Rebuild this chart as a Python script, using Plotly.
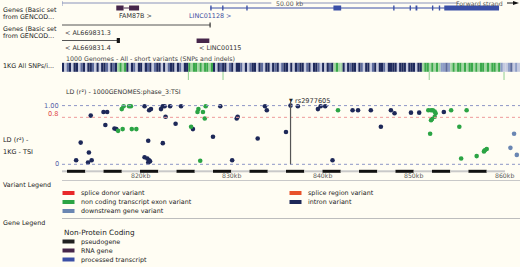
import plotly.graph_objects as go

# ---------------- data ----------------
# LD r^2 vs position (kb) by variant consequence
intron_kb = [813.0, 813.5, 814.3, 814.4, 814.7, 814.6, 816.0, 816.4, 816.2, 817.2, 817.4,
             820.5, 821.0, 821.2, 820.9, 820.5, 820.8, 821.0, 820.9, 821.1, 822.3, 822.5,
             822.7, 822.8, 822.5, 823.3, 823.9, 824.5, 825.8, 828.8, 828.0, 830.1, 830.7,
             830.6, 832.9, 833.7, 833.9, 836.0, 836.5, 837.3, 839.5, 839.8, 840.3, 841.1,
             843.3, 843.9, 845.3, 846.4, 847.5, 847.9, 849.7, 850.6, 853.3]
intron_r2 = [0.07, 0.37, 0.03, 0.20, 0.07, 0.83, 0.89, 0.89, 0.67, 0.61, 0.60,
             0.99, 0.92, 0.94, 0.40, 0.12, 0.10, 0.07, 0.03, 0.05, 0.94, 0.99,
             0.99, 0.81, 0.36, 0.99, 0.69, 0.99, 0.60, 0.99, 0.47, 0.07, 0.81,
             0.78, 0.44, 0.99, 0.92, 0.55, 1.00, 0.99, 0.94, 0.99, 0.99, 0.07,
             0.92, 0.92, 0.92, 0.64, 0.92, 0.87, 0.88, 0.88, 0.89]
ncexon_kb = [817.6, 818.1, 819.1, 819.6, 818.0, 818.2, 818.8, 819.0, 826.4, 826.3, 826.9,
             827.2, 827.1, 825.6, 826.6, 841.7, 851.6, 851.9, 852.1, 852.3, 852.4, 852.3,
             852.0, 851.9, 851.8, 854.1, 855.8, 855.0, 855.2, 856.9, 857.7, 857.8, 858.0]
ncexon_r2 = [0.57, 0.60, 0.60, 0.60, 0.94, 0.99, 0.99, 0.99, 0.94, 0.89, 0.89,
             0.99, 0.78, 0.64, 0.06, 0.92, 0.92, 0.92, 0.92, 0.90, 0.87, 0.81,
             0.77, 0.75, 0.52, 0.92, 0.92, 0.64, 0.10, 0.14, 0.22, 0.24, 0.26]
downstream_kb = [861.0, 860.6, 861.3]
downstream_r2 = [0.52, 0.28, 0.16]

lead_snp = "rs2977605"
lead_kb = 836.5
ld_lines = [1.0, 0.8, 0.0]
ld_line_labels = ["1.00", "0.8", "0"]

scale_ticks_kb = [820, 830, 840, 850, 860]
scale_tick_labels = ["820kb", "830kb", "840kb", "850kb", "860kb"]
scale_seg_kb = [812 + 2 * i for i in range(25)]

# genes (kb)
fam87b_exons = [(817.4, 818.2), (818.8, 819.9)]
linc01128_span = (827.7, 859.35)
linc01128_exons = [(827.7, 827.85), (829.0, 829.15), (831.65, 831.8), (841.2, 842.05),
                   (847.75, 847.9), (849.55, 849.7), (850.2, 850.4), (852.0, 852.15),
                   (852.75, 852.9), (853.35, 859.35)]
al3_span = (811.45, 827.7)
al4_span = (811.45, 817.6)
al4_exon = (817.45, 817.8)
linc00115_exon = (826.2, 827.6)

# 1000 Genomes SNP density track: zones (start, end, stripe pattern)
snp_zones = [
    (811.45, 817.5, "NlmNlNNlmNlNNmlNlNNmlNmN"),
    (817.5, 818.5, "gGgG"),
    (818.5, 825.3, "NlNmlNNlNmNlmNNlNlmNNlNmlNN"),
    (825.3, 828.0, "GgGGgGgGGgG"),
    (828.0, 841.2, "NlNmNNlmNlNNmlNlmNNlNmlNNlNmNlmNNlNlNmNNlmNlNNmlNlNmN"),
    (841.2, 842.2, "gGgg"),
    (842.2, 847.4, "NlNmNNlNmlNNlmNlNNmlN"),
    (847.4, 850.9, "NNNlNNNlNNNlNN"),
    (850.9, 853.2, "gGGgGgGgb"),
    (853.2, 854.0, "bmb"),
    (854.0, 859.5, "gGgGGgGgGGgGgGGgGgGGgG"),
    (859.5, 861.65, "bllbmlbl"),
]
snp_green_ticks_kb = [825.3, 829.1, 851.7, 859.9]

variant_legend = [("splice donor variant", "#e8282a"), ("non coding transcript exon variant", "#2ba444"),
                  ("downstream gene variant", "#6a86b2"), ("splice region variant", "#e8522a"),
                  ("intron variant", "#1d2858")]
gene_legend = [("pseudogene", "#202020"), ("RNA gene", "#46264a"), ("processed transcript", "#3a4fa6")]

# ---------------- styling / layout ----------------
W, H = 520, 267
X0, X1 = 811.45, 861.65
BG = "#fffdf3"
FONT = "DejaVu Sans"
TXT = "#222222"
NAVY = "#1d2858"
GREEN = "#2ba444"
DOWN = "#6a86b2"
RNA = "#46264a"
BLUE = "#3a4fa6"
FS = 6.4
LD_TOP, LD_BOT = 95, 170
R_LO, R_HI = (164.3 - LD_BOT) / 58.7, (164.3 - LD_TOP) / 58.7


def px(x):
    return x / W


def py(y):
    return 1 - y / H


fig = go.Figure()

mk = dict(size=4.6, line=dict(width=0))
fig.add_trace(go.Scatter(x=intron_kb, y=intron_r2, mode="markers", marker=dict(color=NAVY, **mk),
                         xaxis="x", yaxis="y", hoverinfo="skip"))
fig.add_trace(go.Scatter(x=ncexon_kb, y=ncexon_r2, mode="markers", marker=dict(color=GREEN, **mk),
                         xaxis="x", yaxis="y", hoverinfo="skip"))
fig.add_trace(go.Scatter(x=downstream_kb, y=downstream_r2, mode="markers", marker=dict(color=DOWN, **mk),
                         xaxis="x", yaxis="y", hoverinfo="skip"))
fig.add_trace(go.Scatter(x=[X0], y=[0], mode="markers", marker=dict(size=1, opacity=0),
                         xaxis="x", yaxis="y2", hoverinfo="skip"))

shapes = []
ann = []


def rect(x0, x1, y0, y1, color, xref="x", yref="y2"):
    shapes.append(dict(type="rect", xref=xref, yref=yref, x0=x0, x1=x1, y0=y0, y1=y1,
                       fillcolor=color, line=dict(width=0), layer="above"))


def line(x0, x1, y0, y1, color, width=1, xref="x", yref="y2", dash=None):
    d = dict(type="line", xref=xref, yref=yref, x0=x0, x1=x1, y0=y0, y1=y1,
             line=dict(color=color, width=width), layer="above")
    if dash:
        d["line"]["dash"] = dash
    shapes.append(d)


def text(x, y, s, size=FS, color=TXT, anchor="left", xref="paper", yref="paper", **kw):
    ann.append(dict(x=x, y=y, xref=xref, yref=yref, text=s, showarrow=False, xanchor=anchor,
                    yanchor="middle", font=dict(family=FONT, size=size, color=color), **kw))


# --- top scale bar ---
line(X0, 834.4, 3, 3, "#8a93bb")
line(837.2, 854.9, 3, 3, "#8a93bb")
line(X0, X0, 1, 6, "#8a93bb")
text(px(273.5), py(3), "50.00 kb", size=6.2, color="#555")
text(px(505), py(3), "Forward strand", size=6.2, color="#555", anchor="right")
shapes.append(dict(type="path", xref="paper", yref="paper",
                   path=f"M {px(507)} {py(2.4)} L {px(513)} {py(2.4)} L {px(513)} {py(1)} L {px(519)} {py(3)} L {px(513)} {py(5)} L {px(513)} {py(3.6)} L {px(507)} {py(3.6)} Z",
                   fillcolor="#111", line=dict(width=0)))

# --- gene track 1 ---
line(fam87b_exons[0][1], fam87b_exons[1][0], 8, 8, RNA)
for a, b in fam87b_exons:
    rect(a, b, 5.5, 10.5, RNA)
text(px(116.5), py(15.5), "FAM87B &gt;", color="#333")
line(linc01128_span[0], linc01128_span[1], 8, 8, BLUE)
for a, b in linc01128_exons:
    rect(a, b, 5.5, 10.5, BLUE)
text(px(187), py(15.5), "LINC01128 &gt;", color="#3c4ea2")

# --- gene track 2 ---
line(al3_span[0], al3_span[1], 25, 25, "#555")
rect(al3_span[1] - 0.08, al3_span[1] + 0.04, 22.5, 27.5, "#222")
text(px(63), py(33), "&lt; AL669831.3", color="#333")
line(al4_span[0], al4_span[1], 40.5, 40.5, "#555")
rect(al4_exon[0], al4_exon[1], 38, 43, "#151515")
text(px(63), py(48), "&lt; AL669831.4", color="#333")
rect(linc00115_exon[0], linc00115_exon[1], 38.5, 43, RNA)
text(px(197), py(48), "&lt; LINC00115", color="#333")

# --- SNP track ---
text(px(64), py(58.6), "1000 Genomes - All - short variants (SNPs and indels)", size=6.3, color="#444")
cmap = {"N": "#1f2a5c", "m": "#5d6b9c", "l": "#c5cae0", "b": "#8e9dc6", "G": "#3aa84a", "g": "#a3d6a3"}
for a, b, pat in snp_zones:
    w = (b - a) / len(pat)
    for i, c in enumerate(pat):
        rect(a + i * w, a + (i + 1) * w, 62.8, 71.8, cmap[c])
for k in snp_green_ticks_kb:
    line(k, k, 72, 80, "#8fd08f")

# --- LD plot ---
text(px(64), py(92), "LD (r²) - 1000GENOMES:phase_3:TSI", size=6.3, color="#333")
ld_colors = ["#8e96c6", "#ee9a9a", "#8e96c6"]
lab_colors = ["#5560a8", "#e04848", "#5560a8"]
shifts = [0, 3, 0]
for v, lab, lc, tc, sh in zip(ld_lines, ld_line_labels, ld_colors, lab_colors, shifts):
    line(px(62), 1, v, v, lc, width=1, xref="paper", yref="y", dash="dot")
    text(px(61), v, lab, size=6.6, color=tc, anchor="right", yref="y", yshift=sh)
line(lead_kb, lead_kb, 0, 1.07, "#555", width=1.2, yref="y")
text(lead_kb, 1.095, "▼", size=5, color="#222", anchor="center", xref="x", yref="y")
text(lead_kb, 1.08, lead_snp, size=6.6, color="#333", anchor="left", xref="x", yref="y", xshift=2)

# scale bar under LD
rect(X0, scale_seg_kb[0], 170.3, 172.3, "#c9c9c9")
for i in range(len(scale_seg_kb) - 1):
    a, b = scale_seg_kb[i], min(scale_seg_kb[i + 1], X1)
    if i % 2 == 0:
        rect(a, b, 169.8, 172.8, "#111")
    else:
        rect(a, b, 170.3, 172.3, "#c9c9c9")
for v, lab in zip(scale_ticks_kb, scale_tick_labels):
    text(v, py(176), lab, size=6.2, color="#555", anchor="center", xref="x")

# left track labels
text(px(1), py(10), "Genes (Basic set", size=FS)
text(px(1), py(17), "from GENCOD...", size=FS)
text(px(1), py(29), "Genes (Basic set", size=FS)
text(px(1), py(36), "from GENCOD...", size=FS)
text(px(1), py(66), "1KG All SNPs/i...", size=FS)
text(px(1), py(140), "LD (r²) -", size=6.5)
text(px(1), py(152), "1KG - TSI", size=6.5)

# --- legends ---
line(px(62), 1, py(180.5), py(180.5), "#c8c8c8", xref="paper", yref="paper")
text(px(1), py(185), "Variant Legend", size=FS)
vpos = [(62.5, 193), (62.5, 202), (62.5, 211), (289.5, 193), (289.5, 202)]
for (lab, col), (x, y) in zip(variant_legend, vpos):
    rect(px(x), px(x + 12), py(y + 2), py(y - 2), col, xref="paper", yref="paper")
    text(px(x + 16.5), py(y), lab, size=FS)
line(px(62), 1, py(218.5), py(218.5), "#bdbdbd", width=1.2, xref="paper", yref="paper")
text(px(1), py(223), "Gene Legend", size=FS)
text(px(62), py(232.5), "Non-Protein Coding", size=7.3, color="#222")
for (lab, col), y in zip(gene_legend, [241.5, 250.5, 259.5]):
    rect(px(62.5), px(74.5), py(y + 2), py(y - 2), col, xref="paper", yref="paper")
    text(px(79), py(y), lab, size=FS)

fig.update_layout(
    width=W, height=H, margin=dict(l=0, r=0, t=0, b=0),
    paper_bgcolor=BG, plot_bgcolor="rgba(0,0,0,0)", showlegend=False,
    xaxis=dict(domain=[px(62), 1], range=[X0, X1], visible=False, fixedrange=True),
    yaxis=dict(domain=[py(LD_BOT), py(LD_TOP)], range=[R_LO, R_HI], visible=False),
    yaxis2=dict(domain=[0, 1], range=[H, 0], visible=False, anchor="x"),
    shapes=shapes, annotations=ann,
)

fig.write_html("out.html", config={"displayModeBar": False},
               post_script="document.body.style.margin='0';document.body.style.background='%s';" % BG)
